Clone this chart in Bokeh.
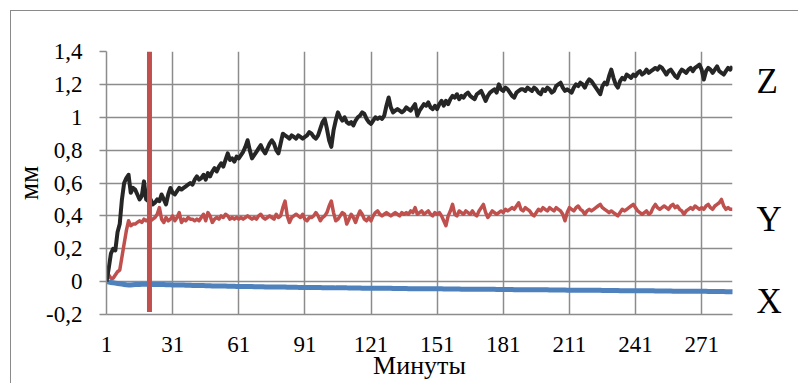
from bokeh.plotting import figure
from bokeh.models import FixedTicker, ColumnDataSource, Range1d, LinearAxis
from bokeh.embed import file_html
from bokeh.resources import INLINE

# ---------------- data ----------------
minutes = list(range(1, 286))

z_mm = [
    0.00, 0.08, 0.17, 0.20, 0.19, 0.30, 0.35, 0.50, 0.60, 0.63, 0.65, 0.54, 0.57, 0.56, 0.53,
    0.50, 0.52, 0.61, 0.50, 0.49, 0.50, 0.47, 0.48, 0.50, 0.49, 0.53, 0.50, 0.47, 0.53, 0.57,
    0.54, 0.53, 0.55, 0.57, 0.56, 0.57, 0.58, 0.59, 0.60, 0.59, 0.62, 0.64, 0.62, 0.63, 0.65,
    0.62, 0.66, 0.64, 0.67, 0.69, 0.67, 0.70, 0.72, 0.70, 0.74, 0.78, 0.74, 0.75, 0.73, 0.76,
    0.75, 0.77, 0.79, 0.82, 0.86, 0.80, 0.75, 0.77, 0.79, 0.81, 0.83, 0.80, 0.78, 0.81, 0.84,
    0.86, 0.84, 0.80, 0.78, 0.84, 0.90, 0.89, 0.88, 0.87, 0.89, 0.88, 0.87, 0.89, 0.88, 0.87,
    0.88, 0.89, 0.91, 0.90, 0.88, 0.87, 0.89, 0.93, 0.97, 0.99, 0.93, 0.86, 0.82, 0.92, 0.98,
    1.03, 1.00, 0.98, 1.00, 0.97, 0.96, 0.97, 0.95, 0.98, 1.00, 1.01, 1.03, 1.02, 0.99, 0.97,
    0.96, 0.98, 1.00, 0.99, 1.00, 0.99, 1.01, 1.07, 1.12, 1.06, 1.03, 1.04, 1.05, 1.04, 1.03,
    1.04, 1.06, 1.05, 1.04, 1.06, 1.08, 1.01, 1.04, 1.06, 1.08, 1.07, 1.09, 1.06, 1.05, 1.07,
    1.05, 1.08, 1.10, 1.07, 1.10, 1.08, 1.11, 1.13, 1.12, 1.14, 1.11, 1.13, 1.12, 1.14, 1.15,
    1.13, 1.12, 1.11, 1.14, 1.15, 1.16, 1.13, 1.10, 1.13, 1.15, 1.16, 1.17, 1.15, 1.20, 1.17,
    1.16, 1.18, 1.17, 1.15, 1.13, 1.12, 1.15, 1.16, 1.17, 1.17, 1.16, 1.18, 1.17, 1.16, 1.18,
    1.17, 1.15, 1.14, 1.17, 1.16, 1.18, 1.17, 1.15, 1.16, 1.19, 1.20, 1.21, 1.18, 1.16, 1.17,
    1.16, 1.15, 1.18, 1.20, 1.19, 1.21, 1.20, 1.18, 1.21, 1.23, 1.22, 1.20, 1.18, 1.16, 1.14,
    1.19, 1.21, 1.20, 1.25, 1.29, 1.24, 1.20, 1.18, 1.22, 1.24, 1.23, 1.26, 1.25, 1.24, 1.26,
    1.25, 1.27, 1.28, 1.26, 1.27, 1.29, 1.27, 1.28, 1.29, 1.30, 1.29, 1.31, 1.30, 1.28, 1.26,
    1.28, 1.29, 1.27, 1.25, 1.24, 1.27, 1.29, 1.28, 1.27, 1.29, 1.30, 1.28, 1.30, 1.31, 1.32,
    1.29, 1.23, 1.28, 1.30, 1.29, 1.27, 1.29, 1.31, 1.28, 1.27, 1.26, 1.28, 1.30, 1.29, 1.31,
]

y_mm = [
    0.06, 0.04, 0.02, 0.02, 0.04, 0.06, 0.07, 0.15, 0.23, 0.31, 0.37, 0.34, 0.35, 0.35, 0.36,
    0.37, 0.36, 0.38, 0.37, 0.38, 0.37, 0.38, 0.39, 0.41, 0.45, 0.38, 0.36, 0.39, 0.37, 0.38,
    0.40, 0.37, 0.39, 0.42, 0.36, 0.38, 0.37, 0.39, 0.38, 0.38, 0.37, 0.38, 0.37, 0.39, 0.41,
    0.37, 0.42, 0.40, 0.36, 0.38, 0.39, 0.38, 0.40, 0.39, 0.41, 0.40, 0.38, 0.39, 0.38, 0.39,
    0.38, 0.39, 0.38, 0.39, 0.40, 0.39, 0.38, 0.39, 0.38, 0.40, 0.41, 0.39, 0.38, 0.39, 0.40,
    0.39, 0.38, 0.41, 0.39, 0.40, 0.45, 0.49, 0.40, 0.36, 0.39, 0.40, 0.41, 0.40, 0.39, 0.41,
    0.38, 0.37, 0.39, 0.39, 0.40, 0.42, 0.40, 0.37, 0.39, 0.40, 0.42, 0.46, 0.49, 0.42, 0.37,
    0.38, 0.40, 0.42, 0.41, 0.35, 0.38, 0.41, 0.39, 0.36, 0.40, 0.43, 0.41, 0.38, 0.37, 0.39,
    0.37, 0.40, 0.42, 0.43, 0.41, 0.40, 0.41, 0.42, 0.41, 0.40, 0.41, 0.42, 0.41, 0.40, 0.42,
    0.41, 0.42, 0.41, 0.43, 0.42, 0.45, 0.41, 0.42, 0.43, 0.41, 0.42, 0.43, 0.41, 0.40, 0.42,
    0.41, 0.42, 0.40, 0.37, 0.34, 0.40, 0.43, 0.47, 0.41, 0.40, 0.43, 0.42, 0.41, 0.43, 0.42,
    0.41, 0.43, 0.41, 0.40, 0.43, 0.45, 0.47, 0.42, 0.39, 0.41, 0.43, 0.42, 0.41, 0.42, 0.43,
    0.42, 0.44, 0.43, 0.44, 0.45, 0.44, 0.46, 0.48, 0.44, 0.43, 0.45, 0.44, 0.43, 0.41, 0.40,
    0.42, 0.44, 0.43, 0.45, 0.44, 0.43, 0.45, 0.44, 0.43, 0.45, 0.44, 0.43, 0.41, 0.37, 0.42,
    0.45, 0.44, 0.43, 0.45, 0.46, 0.44, 0.43, 0.41, 0.43, 0.44, 0.43, 0.44, 0.45, 0.46, 0.47,
    0.45, 0.44, 0.43, 0.42, 0.43, 0.42, 0.41, 0.40, 0.42, 0.44, 0.43, 0.44, 0.45, 0.46, 0.47,
    0.45, 0.43, 0.42, 0.41, 0.42, 0.43, 0.41, 0.42, 0.45, 0.47, 0.45, 0.44, 0.45, 0.46, 0.45,
    0.44, 0.46, 0.47, 0.45, 0.46, 0.44, 0.43, 0.41, 0.43, 0.44, 0.45, 0.44, 0.46, 0.45, 0.44,
    0.45, 0.44, 0.46, 0.47, 0.45, 0.44, 0.46, 0.47, 0.48, 0.50, 0.46, 0.44, 0.45, 0.44, 0.44,
]

x_mm = [
    0.000, -0.003, -0.005, -0.007, -0.009, -0.011, -0.013, -0.015, -0.017, -0.019,
    -0.020, -0.020, -0.019, -0.018, -0.017, -0.017, -0.016, -0.016, -0.016, -0.016,
    -0.016, -0.017, -0.017, -0.017, -0.018, -0.018, -0.018, -0.019, -0.019, -0.019,
    -0.020, -0.020, -0.020, -0.021, -0.021, -0.021, -0.022, -0.022, -0.022, -0.023,
    -0.023, -0.023, -0.024, -0.024, -0.024, -0.025, -0.025, -0.025, -0.026, -0.026,
    -0.026, -0.026, -0.027, -0.027, -0.027, -0.028, -0.028, -0.028, -0.028, -0.029,
    -0.029, -0.029, -0.029, -0.030, -0.030, -0.030, -0.030, -0.031, -0.031, -0.031,
    -0.031, -0.031, -0.032, -0.032, -0.032, -0.032, -0.032, -0.033, -0.033, -0.033,
    -0.033, -0.033, -0.034, -0.034, -0.034, -0.034, -0.034, -0.035, -0.035, -0.035,
    -0.035, -0.035, -0.035, -0.036, -0.036, -0.036, -0.036, -0.036, -0.037, -0.037,
    -0.037, -0.037, -0.037, -0.037, -0.038, -0.038, -0.038, -0.038, -0.038, -0.038,
    -0.039, -0.039, -0.039, -0.039, -0.039, -0.039, -0.040, -0.040, -0.040, -0.040,
    -0.040, -0.040, -0.040, -0.041, -0.041, -0.041, -0.041, -0.041, -0.041, -0.041,
    -0.042, -0.042, -0.042, -0.042, -0.042, -0.042, -0.042, -0.043, -0.043, -0.043,
    -0.043, -0.043, -0.043, -0.043, -0.043, -0.044, -0.044, -0.044, -0.044, -0.044,
    -0.044, -0.044, -0.044, -0.045, -0.045, -0.045, -0.045, -0.045, -0.045, -0.045,
    -0.045, -0.046, -0.046, -0.046, -0.046, -0.046, -0.046, -0.046, -0.046, -0.047,
    -0.047, -0.047, -0.047, -0.047, -0.047, -0.047, -0.047, -0.048, -0.048, -0.048,
    -0.048, -0.048, -0.048, -0.048, -0.048, -0.049, -0.049, -0.049, -0.049, -0.049,
    -0.049, -0.049, -0.049, -0.050, -0.050, -0.050, -0.050, -0.050, -0.050, -0.050,
    -0.050, -0.051, -0.051, -0.051, -0.051, -0.051, -0.051, -0.051, -0.051, -0.052,
    -0.052, -0.052, -0.052, -0.052, -0.052, -0.052, -0.052, -0.053, -0.053, -0.053,
    -0.053, -0.053, -0.053, -0.053, -0.053, -0.054, -0.054, -0.054, -0.054, -0.054,
    -0.054, -0.054, -0.054, -0.055, -0.055, -0.055, -0.055, -0.055, -0.055, -0.055,
    -0.055, -0.056, -0.056, -0.056, -0.056, -0.056, -0.056, -0.056, -0.056, -0.057,
    -0.057, -0.057, -0.057, -0.057, -0.057, -0.057, -0.057, -0.058, -0.058, -0.058,
    -0.058, -0.058, -0.058, -0.058, -0.058, -0.059, -0.059, -0.059, -0.059, -0.059,
    -0.059, -0.059, -0.059, -0.060, -0.060, -0.060, -0.060, -0.060, -0.060, -0.060,
    -0.060, -0.061, -0.061, -0.061, -0.061,
]

x_ticks = [1, 31, 61, 91, 121, 151, 181, 211, 241, 271]
y_ticks = [-0.2, 0, 0.2, 0.4, 0.6, 0.8, 1.0, 1.2, 1.4]
y_tick_labels = ["-0,2", "0", "0,2", "0,4", "0,6", "0,8", "1", "1,2", "1,4"]

marker_minute = 20.5           # vertical red marker
marker_span = [-0.185, 1.4]

series_names = ["Z", "Y", "X"]
series_label_y = [1.22, 0.38, -0.12]   # where the series names sit at the right

x_title = "Минуты"
y_title = "мм"

# ---------------- figure ----------------
FONT = "Liberation Serif"
GRID = "#8c8c8c"

p = figure(
    frame_width=626, frame_height=263,
    output_backend="svg", toolbar_location=None,
    x_range=Range1d(1, 285), y_range=Range1d(-0.2, 1.4),
    min_border_left=95, min_border_right=66, min_border_top=40, min_border_bottom=69,
)
p.styles = {
    "margin-left": "10px", "margin-top": "10px",
    "border-left": "1px solid #8a8a8a", "border-top": "1px solid #8a8a8a",
}
p.outline_line_color = None
p.background_fill_color = "white"
p.border_fill_color = "white"

xt = FixedTicker(ticks=x_ticks)
yt = FixedTicker(ticks=y_ticks)
xax = p.xaxis[0]
yax = p.yaxis[0]
xax.ticker = xt
yax.ticker = yt
p.xgrid[0].ticker = xt
p.ygrid[0].ticker = yt
yax.major_label_overrides = {t: s for t, s in zip(y_ticks, y_tick_labels)}

for g in (p.xgrid[0], p.ygrid[0]):
    g.grid_line_color = GRID
    g.grid_line_width = 1.5

for ax in (xax, yax):
    ax.axis_line_color = GRID
    ax.axis_line_width = 1.5
    ax.major_tick_line_color = GRID
    ax.major_tick_line_width = 1.5
    ax.minor_tick_line_color = None
    ax.major_tick_in = 0
    ax.major_label_text_font = FONT
    ax.major_label_text_font_size = "23px"
    ax.major_label_text_font_style = "normal"
    ax.major_label_text_color = "black"
    ax.axis_label_text_font = FONT
    ax.axis_label_text_font_style = "normal"
    ax.axis_label_text_color = "black"

xax.major_tick_out = 0
xax.major_label_standoff = 22
xax.axis_label = x_title
xax.axis_label_text_font_size = "26px"
xax.axis_label_standoff = -4

yax.major_tick_out = 7
yax.major_label_standoff = 17
yax.axis_label = y_title
yax.axis_label_text_font_size = "27px"
yax.axis_label_standoff = -1

# series names on the right, as labels of an extra axis
name_axis = LinearAxis(
    ticker=FixedTicker(ticks=series_label_y),
    major_label_overrides={v: n for v, n in zip(series_label_y, series_names)},
    axis_line_color=None, major_tick_line_color=None, minor_tick_line_color=None,
    major_label_standoff=18, major_label_text_font=FONT,
    major_label_text_font_size="35px", major_label_text_color="black",
)
p.add_layout(name_axis, "right")

src = ColumnDataSource(dict(m=minutes, x=x_mm, y=y_mm, z=z_mm))
p.line("m", "x", source=src, line_color="#4F81BD", line_width=5, line_join="round", line_cap="round")
p.line("m", "y", source=src, line_color="#C0504D", line_width=3.5, line_join="round")
p.line("m", "z", source=src, line_color="#262626", line_width=4, line_join="round")

p.segment(x0=[marker_minute], y0=[marker_span[0]], x1=[marker_minute], y1=[marker_span[1]],
          line_color="#C0504D", line_width=5)

open("out.html", "w").write(file_html(p, INLINE))
